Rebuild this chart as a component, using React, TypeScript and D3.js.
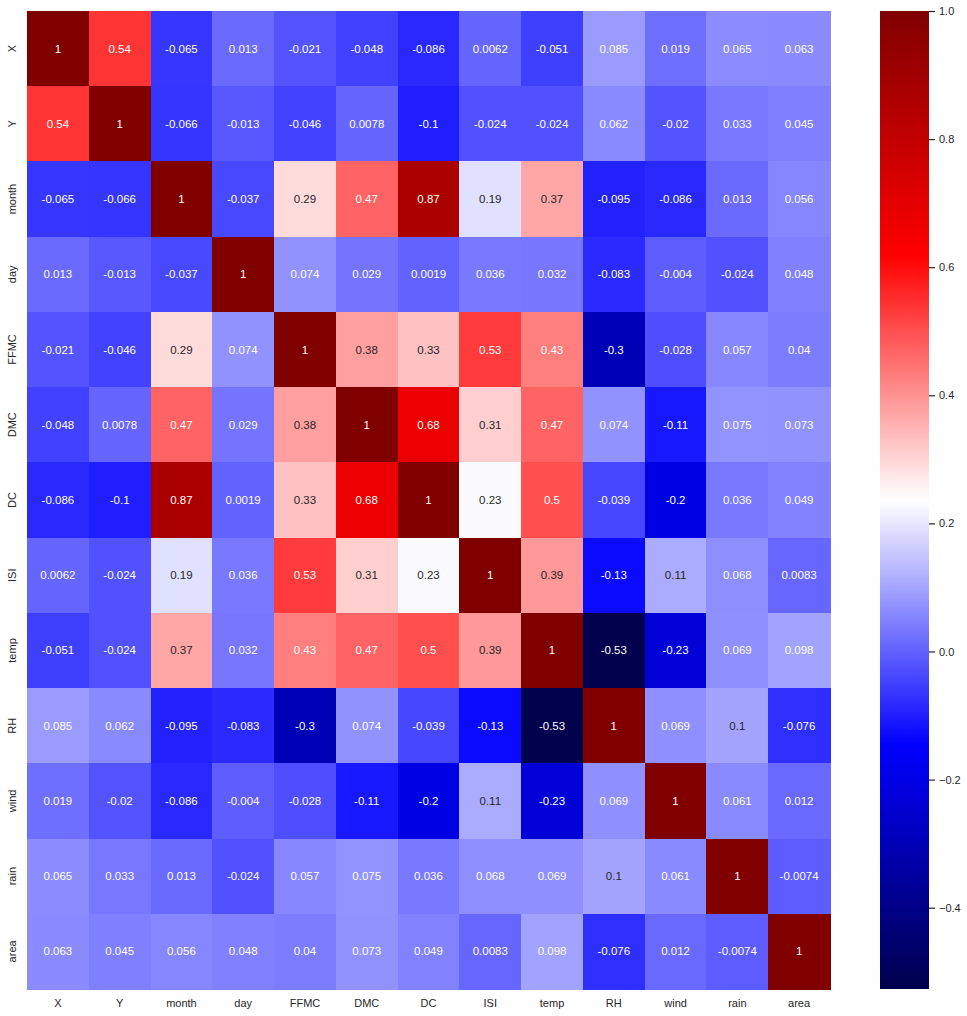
import { useEffect, useRef } from 'react';
import * as d3 from 'd3';

const labels = ["X", "Y", "month", "day", "FFMC", "DMC", "DC", "ISI", "temp", "RH", "wind", "rain", "area"];

const corr: number[][] = [
  [1, 0.54, -0.065, 0.013, -0.021, -0.048, -0.086, 0.0062, -0.051, 0.085, 0.019, 0.065, 0.063],
  [0.54, 1, -0.066, -0.013, -0.046, 0.0078, -0.1, -0.024, -0.024, 0.062, -0.02, 0.033, 0.045],
  [-0.065, -0.066, 1, -0.037, 0.29, 0.47, 0.87, 0.19, 0.37, -0.095, -0.086, 0.013, 0.056],
  [0.013, -0.013, -0.037, 1, 0.074, 0.029, 0.0019, 0.036, 0.032, -0.083, -0.004, -0.024, 0.048],
  [-0.021, -0.046, 0.29, 0.074, 1, 0.38, 0.33, 0.53, 0.43, -0.3, -0.028, 0.057, 0.04],
  [-0.048, 0.0078, 0.47, 0.029, 0.38, 1, 0.68, 0.31, 0.47, 0.074, -0.11, 0.075, 0.073],
  [-0.086, -0.1, 0.87, 0.0019, 0.33, 0.68, 1, 0.23, 0.5, -0.039, -0.2, 0.036, 0.049],
  [0.0062, -0.024, 0.19, 0.036, 0.53, 0.31, 0.23, 1, 0.39, -0.13, 0.11, 0.068, 0.0083],
  [-0.051, -0.024, 0.37, 0.032, 0.43, 0.47, 0.5, 0.39, 1, -0.53, -0.23, 0.069, 0.098],
  [0.085, 0.062, -0.095, -0.083, -0.3, 0.074, -0.039, -0.13, -0.53, 1, 0.069, 0.1, -0.076],
  [0.019, -0.02, -0.086, -0.004, -0.028, -0.11, -0.2, 0.11, -0.23, 0.069, 1, 0.061, 0.012],
  [0.065, 0.033, 0.013, -0.024, 0.057, 0.075, 0.036, 0.068, 0.069, 0.1, 0.061, 1, -0.0074],
  [0.063, 0.045, 0.056, 0.048, 0.04, 0.073, 0.049, 0.0083, 0.098, -0.076, 0.012, -0.0074, 1],
];

// data min (temp vs RH, shown rounded as -0.53) and max
const valueDomain: [number, number] = [-0.527, 1];
const colorbarTicks = [-0.4, -0.2, 0, 0.2, 0.4, 0.6, 0.8, 1.0];

// matplotlib "seismic"
const seismicStops = ["#00004d", "#0000ff", "#ffffff", "#ff0000", "#800000"];

export default function App() {
  const ref = useRef<SVGSVGElement | null>(null);
  const width = 967;
  const height = 1016;

  useEffect(() => {
    if (!ref.current) return;
    const svg = d3.select(ref.current);
    svg.selectAll("*").remove();

    const font = "'Liberation Sans', Arial, sans-serif";
    const textDark = "#262626";
    const left = 27, right = 830, top = 11, bottom = 989;

    const x = d3.scaleBand().domain(labels).range([left, right]);
    const y = d3.scaleBand().domain(labels).range([top, bottom]);

    const norm = d3.scaleLinear().domain(valueDomain).range([0, 1]).clamp(true);
    const seismic = d3.scaleLinear<string>()
      .domain([0, 0.25, 0.5, 0.75, 1])
      .range(seismicStops)
      .interpolate(d3.interpolateRgb);
    const color = (v: number) => seismic(norm(v));

    const luminance = (c: string) => {
      const rgb = d3.rgb(c);
      const lin = (u: number) => {
        const s = u / 255;
        return s <= 0.03928 ? s / 12.92 : Math.pow((s + 0.055) / 1.055, 2.4);
      };
      return 0.2126 * lin(rgb.r) + 0.7152 * lin(rgb.g) + 0.0722 * lin(rgb.b);
    };

    const cells = corr.flatMap((row, i) => row.map((v, j) => ({ r: labels[i], c: labels[j], v })));

    const g = svg.append("g");
    g.selectAll("rect")
      .data(cells)
      .enter()
      .append("rect")
      .attr("x", d => x(d.c)!)
      .attr("y", d => y(d.r)!)
      .attr("width", x.bandwidth() + 0.5)
      .attr("height", y.bandwidth() + 0.5)
      .attr("fill", d => color(d.v))
      .attr("shape-rendering", "crispEdges");

    g.selectAll("text")
      .data(cells)
      .enter()
      .append("text")
      .attr("x", d => x(d.c)! + x.bandwidth() / 2)
      .attr("y", d => y(d.r)! + y.bandwidth() / 2)
      .attr("text-anchor", "middle")
      .attr("dominant-baseline", "central")
      .attr("font-family", font)
      .attr("font-size", "11.5px")
      .attr("fill", d => luminance(color(d.v)) > 0.408 ? textDark : "#ffffff")
      .text(d => String(d.v));

    // axis labels
    svg.append("g")
      .selectAll("text")
      .data(labels)
      .enter()
      .append("text")
      .attr("x", d => x(d)! + x.bandwidth() / 2)
      .attr("y", 1003)
      .attr("text-anchor", "middle")
      .attr("dominant-baseline", "central")
      .attr("font-family", font)
      .attr("font-size", "11px")
      .attr("fill", textDark)
      .text(d => d);

    svg.append("g")
      .selectAll("text")
      .data(labels)
      .enter()
      .append("text")
      .attr("transform", d => `translate(12,${y(d)! + y.bandwidth() / 2}) rotate(-90)`)
      .attr("text-anchor", "middle")
      .attr("dominant-baseline", "central")
      .attr("font-family", font)
      .attr("font-size", "11px")
      .attr("fill", textDark)
      .text(d => d);

    // colorbar
    const cbLeft = 880, cbRight = 929;
    const cbScale = d3.scaleLinear().domain(valueDomain).range([bottom, top]);
    const defs = svg.append("defs");
    const grad = defs.append("linearGradient")
      .attr("id", "cbgrad")
      .attr("x1", 0).attr("y1", 1).attr("x2", 0).attr("y2", 0);
    seismicStops.forEach((c, i) => {
      grad.append("stop").attr("offset", i / (seismicStops.length - 1)).attr("stop-color", c);
    });
    svg.append("rect")
      .attr("x", cbLeft)
      .attr("y", top)
      .attr("width", cbRight - cbLeft)
      .attr("height", bottom - top)
      .attr("fill", "url(#cbgrad)");

    const axis = d3.axisRight(cbScale)
      .tickValues(colorbarTicks)
      .tickSize(6)
      .tickPadding(4)
      .tickFormat(d => d3.format(".1f")(d as number).replace("-", "\u2212"));

    const ax = svg.append("g")
      .attr("transform", `translate(${cbRight},0)`)
      .call(axis);
    ax.select(".domain").remove();
    ax.selectAll(".tick line").attr("stroke", textDark).attr("stroke-width", 1.2);
    ax.selectAll(".tick text")
      .attr("font-family", font)
      .attr("font-size", "11px")
      .attr("fill", textDark);
  }, []);

  return (
    <svg
      ref={ref}
      width={width}
      height={height}
      style={{ position: "absolute", left: 0, top: 0, background: "#ffffff" }}
    />
  );
}
